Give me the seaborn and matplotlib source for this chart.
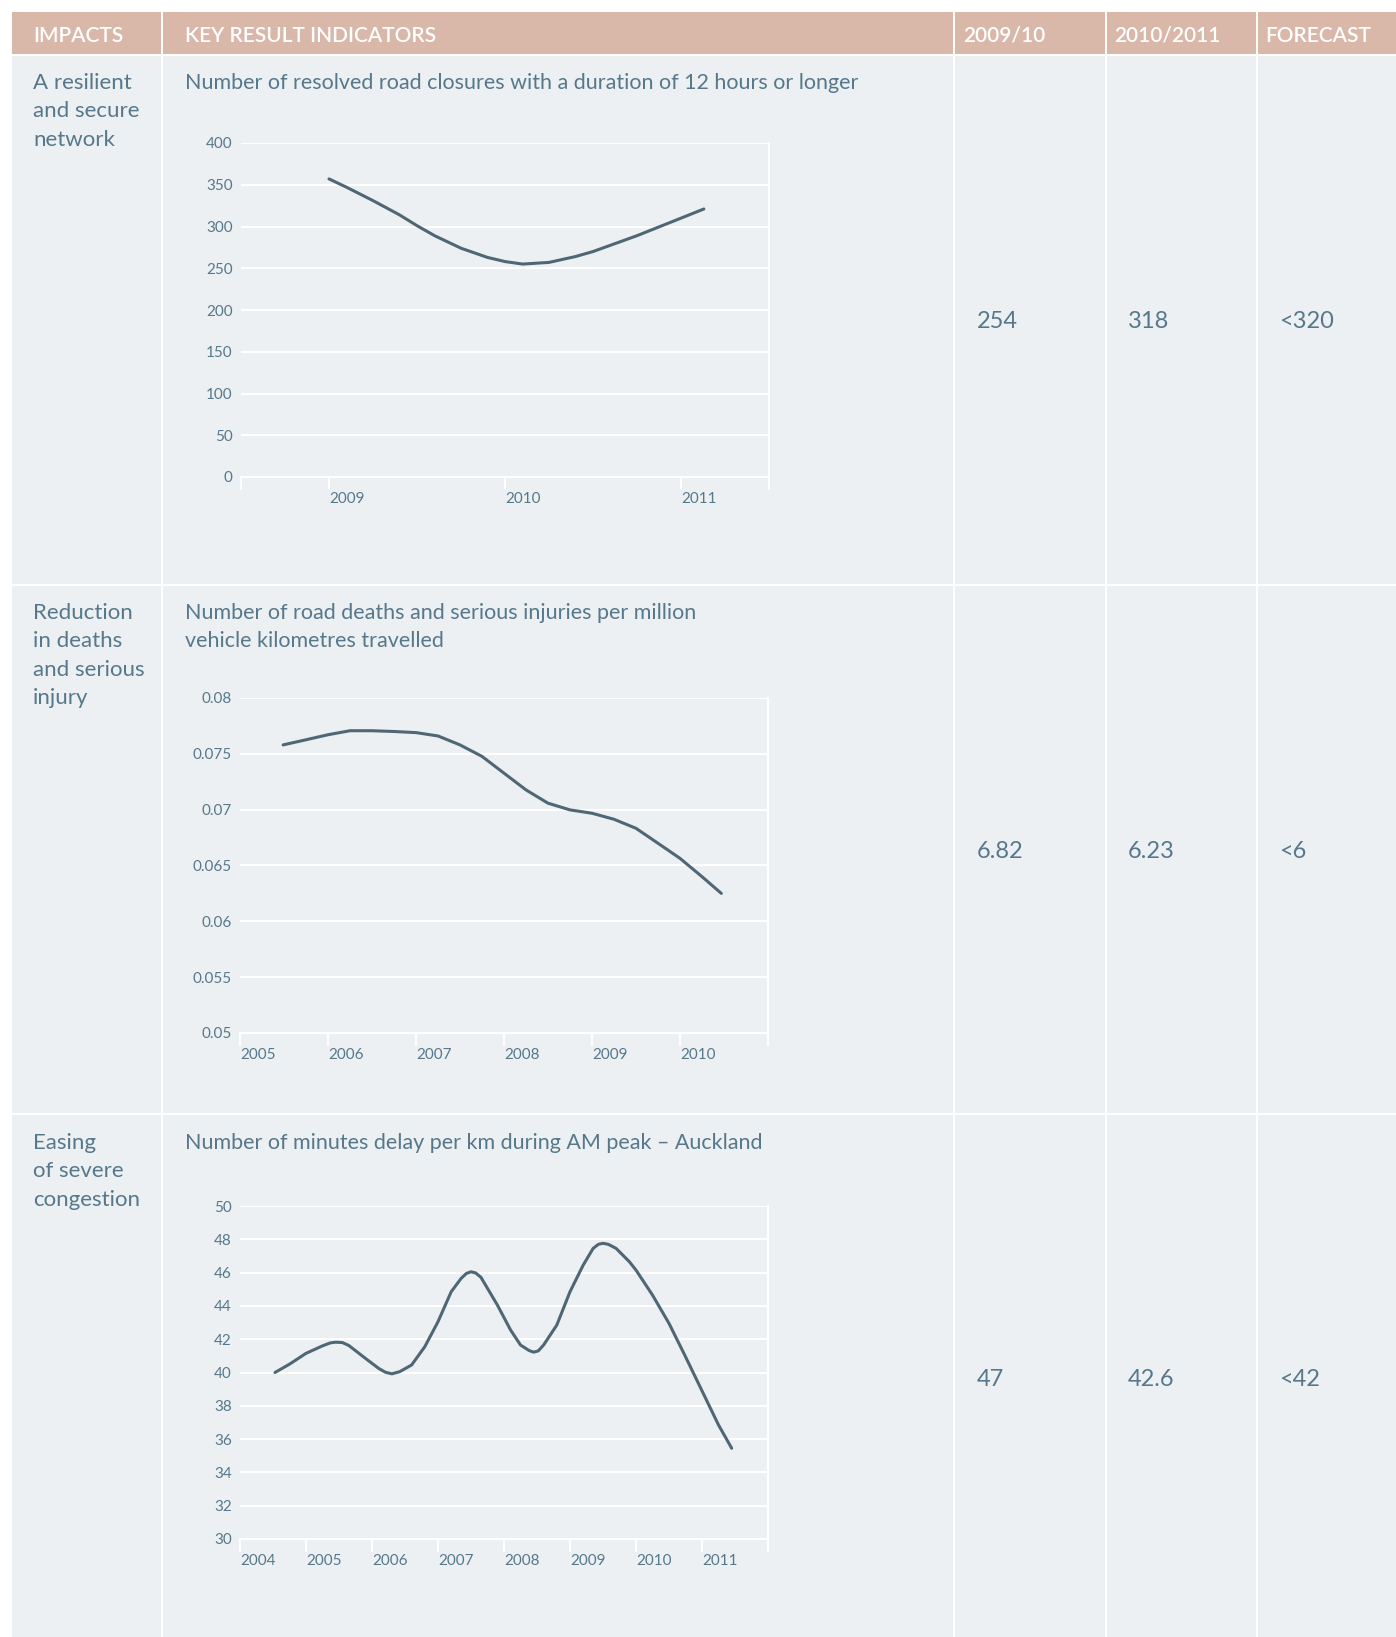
import numpy as np
import pandas as pd
import matplotlib
matplotlib.use("Agg")
import matplotlib.pyplot as plt
import seaborn as sns
from matplotlib.patches import Rectangle
from matplotlib.ticker import FixedLocator, FixedFormatter

# ---------------- data ----------------
header_labels = ["IMPACTS", "KEY RESULT INDICATORS", "2009/10", "2010/2011", "FORECAST"]
impacts = [["A resilient", "and secure", "network"],
           ["Reduction", "in deaths", "and serious", "injury"],
           ["Easing", "of severe", "congestion"]]
indicator_titles = [["Number of resolved road closures with a duration of 12 hours or longer"],
                    ["Number of road deaths and serious injuries per million",
                     "vehicle kilometres travelled"],
                    ["Number of minutes delay per km during AM peak \u2013 Auckland"]]
values_2009_10 = ["254", "6.82", "47"]
values_2010_11 = ["318", "6.23", "42.6"]
forecast_values = ["<320", "<6", "<42"]

# chart 1: road closures
closures_year = [2009.0, 2009.1, 2009.25, 2009.4, 2009.5, 2009.6, 2009.75, 2009.9,
                 2010.0, 2010.1, 2010.25, 2010.4, 2010.5, 2010.75, 2011.0, 2011.13]
closures_value = [357, 347, 331, 314, 301, 289, 274, 263,
                  258, 255, 257, 264, 270, 289, 310, 321]
closures_yticks = [0, 50, 100, 150, 200, 250, 300, 350, 400]
closures_xlabels = [2009, 2010, 2011]
closures_xbounds = [2008.5, 2011.5]

# chart 2: deaths and serious injuries
dsi_year = [2005.49, 2005.75, 2006.0, 2006.25, 2006.5, 2006.75, 2007.0, 2007.25,
            2007.5, 2007.75, 2008.0, 2008.25, 2008.5, 2008.75, 2009.0, 2009.25,
            2009.5, 2009.75, 2010.0, 2010.25, 2010.47]
dsi_value = [0.0758, 0.07626, 0.07671, 0.07707, 0.07707, 0.0770, 0.0769, 0.0766,
             0.0758, 0.07477, 0.07327, 0.07177, 0.07058, 0.06998, 0.06968, 0.06914,
             0.06833, 0.06699, 0.06564, 0.0640, 0.0625]
dsi_yticks = [0.05, 0.055, 0.06, 0.065, 0.07, 0.075, 0.08]
dsi_ylabels = ["0.05", "0.055", "0.06", "0.065", "0.07", "0.075", "0.08"]
dsi_xlabels = [2005, 2006, 2007, 2008, 2009, 2010]
dsi_xbounds = [2005, 2011]

# chart 3: congestion delay
delay_year = [2004.53, 2004.75, 2005.0, 2005.25, 2005.37, 2005.45, 2005.55, 2005.65,
              2005.9, 2006.1, 2006.2, 2006.3, 2006.42, 2006.6, 2006.8, 2007.0,
              2007.2, 2007.35, 2007.43, 2007.5, 2007.57, 2007.65, 2007.9, 2008.1,
              2008.25, 2008.38, 2008.45, 2008.52, 2008.6, 2008.8, 2008.9, 2009.0,
              2009.2, 2009.35, 2009.43, 2009.5, 2009.58, 2009.7, 2009.9, 2010.0,
              2010.25, 2010.5, 2010.75, 2011.0, 2011.25, 2011.45]
delay_value = [40.0, 40.5, 41.15, 41.6, 41.78, 41.82, 41.8, 41.62,
               40.85, 40.25, 40.02, 39.92, 40.05, 40.45, 41.55, 43.05,
               44.85, 45.65, 45.95, 46.05, 45.98, 45.72, 44.05, 42.55,
               41.65, 41.32, 41.22, 41.3, 41.65, 42.85, 43.85, 44.85,
               46.45, 47.45, 47.7, 47.76, 47.7, 47.45, 46.65, 46.15,
               44.65, 42.95, 40.95, 38.9, 36.85, 35.45]
delay_yticks = [30, 32, 34, 36, 38, 40, 42, 44, 46, 48, 50]
delay_xlabels = [2004, 2005, 2006, 2007, 2008, 2009, 2010, 2011]
delay_xbounds = [2004, 2012]

# ---------------- style ----------------
sns.set_theme(style="white")
FONT = ["Lato", "DejaVu Sans"]
plt.rcParams["font.family"] = FONT

HEADER_BG = "#dab8a9"
BODY_BG = "#ecf0f3"
TEXT_C = "#56788a"
LINE_C = "#4f6674"

W, H = 1396, 1637
fig = plt.figure(figsize=(W / 100, H / 100), dpi=100)
fig.patch.set_facecolor("white")

bg = fig.add_axes([0, 0, 1, 1], zorder=0)
bg.set_xlim(0, W)
bg.set_ylim(H, 0)
bg.axis("off")

tab_left, head_top, head_bot = 11.5, 11.5, 54.5
bg.add_patch(Rectangle((tab_left, head_top), W - tab_left, head_bot - head_top,
                       facecolor=HEADER_BG, edgecolor="none"))
bg.add_patch(Rectangle((tab_left, head_bot), W - tab_left, H - head_bot,
                       facecolor=BODY_BG, edgecolor="none"))
bg.plot([tab_left, W], [head_bot, head_bot], color="white", lw=1.4)
col_x = [162, 954, 1106, 1257]
for cx in col_x:
    bg.plot([cx, cx], [head_top, H], color="white", lw=1.4)
row_y = [54.5, 585, 1114]
for ry in row_y[1:]:
    bg.plot([tab_left, W], [ry, ry], color="white", lw=1.4)

head_x = [33, 185, 963, 1114, 1265]
for hx, lab in zip(head_x, header_labels):
    bg.text(hx, 36, lab, color="white", fontsize=15, fontweight="semibold",
            va="center", ha="left")

line_step = 28.3
row_text_top = [83, 613, 1143]
for r in range(3):
    for i, s in enumerate(impacts[r]):
        bg.text(33, row_text_top[r] + i * line_step, s, color=TEXT_C, fontsize=16,
                va="center", ha="left")
    for i, s in enumerate(indicator_titles[r]):
        bg.text(185, row_text_top[r] + i * line_step, s, color=TEXT_C, fontsize=15.5,
                va="center", ha="left")

val_y = [321, 851, 1380]
for r in range(3):
    bg.text(977, val_y[r], values_2009_10[r], color=TEXT_C, fontsize=17, va="center", ha="left")
    bg.text(1128, val_y[r], values_2010_11[r], color=TEXT_C, fontsize=17, va="center", ha="left")
    bg.text(1279, val_y[r], forecast_values[r], color=TEXT_C, fontsize=17, va="center", ha="left")


def make_axes(left, right, top, bottom):
    return fig.add_axes([left / W, 1 - bottom / H, (right - left) / W, (bottom - top) / H],
                        zorder=1)


def style_chart(ax, yticks, ylabels, xlabels, xbounds):
    ax.set_facecolor("none")
    ax.set_xlim(*xbounds)
    ax.set_ylim(yticks[0], yticks[-1])
    ax.yaxis.set_major_locator(FixedLocator(yticks))
    ax.yaxis.set_major_formatter(FixedFormatter(ylabels))
    ax.xaxis.set_major_locator(FixedLocator(xlabels))
    ax.xaxis.set_major_formatter(FixedFormatter([str(v) for v in xlabels]))
    minor = [b for b in xbounds if b not in xlabels]
    ax.xaxis.set_minor_locator(FixedLocator(minor))
    ax.grid(axis="y", color="white", lw=1.4)
    ax.grid(axis="x", visible=False)
    for side in ["left", "top"]:
        ax.spines[side].set_visible(False)
    ax.spines["right"].set_color("white")
    ax.spines["right"].set_linewidth(1.4)
    ax.spines["bottom"].set_color("white")
    ax.spines["bottom"].set_linewidth(1.4)
    ax.tick_params(axis="y", length=0, pad=6, labelsize=11, labelcolor=TEXT_C)
    ax.tick_params(axis="x", which="both", length=9, width=1.4, color="white",
                   direction="out", pad=1.5, labelsize=11, labelcolor=TEXT_C, bottom=True)
    for lbl in ax.get_xticklabels():
        lbl.set_horizontalalignment("left")
    ax.set_xlabel("")
    ax.set_ylabel("")


ax1 = make_axes(241, 769, 143, 477)
sns.lineplot(x=closures_year, y=closures_value, ax=ax1, color=LINE_C, lw=2.2)
style_chart(ax1, closures_yticks, [str(v) for v in closures_yticks], closures_xlabels, closures_xbounds)

ax2 = make_axes(240, 768, 698, 1033)
sns.lineplot(x=dsi_year, y=dsi_value, ax=ax2, color=LINE_C, lw=2.2)
style_chart(ax2, dsi_yticks, dsi_ylabels, dsi_xlabels, dsi_xbounds)

ax3 = make_axes(240, 768, 1206, 1539)
sns.lineplot(x=delay_year, y=delay_value, ax=ax3, color=LINE_C, lw=2.2)
style_chart(ax3, delay_yticks, [str(v) for v in delay_yticks], delay_xlabels, delay_xbounds)

fig.savefig("out.png", dpi=100, facecolor="white")
